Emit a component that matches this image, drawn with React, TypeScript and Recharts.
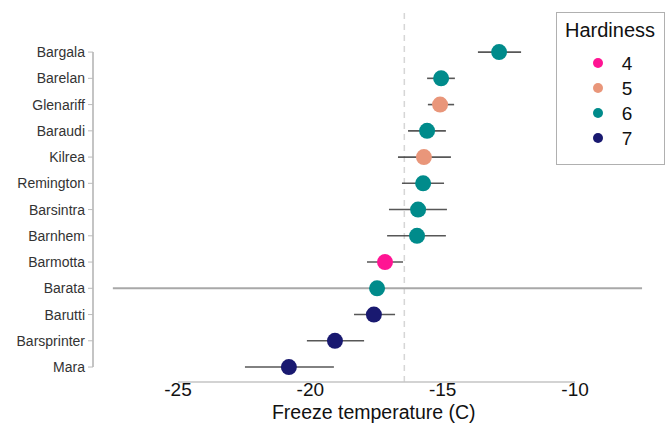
import {
  ErrorBar,
  Legend,
  ReferenceLine,
  Scatter,
  ScatterChart,
  XAxis,
  YAxis,
} from "recharts";

const cultivars = [
  "Bargala",
  "Barelan",
  "Glenariff",
  "Baraudi",
  "Kilrea",
  "Remington",
  "Barsintra",
  "Barnhem",
  "Barmotta",
  "Barata",
  "Barutti",
  "Barsprinter",
  "Mara",
];
const freezeTemp = [-12.87, -15.06, -15.1, -15.59, -15.71, -15.74, -15.93, -15.97, -17.18, -17.48, -17.6, -19.07, -20.81];
const lowerCI = [-13.67, -15.59, -15.56, -16.31, -16.69, -16.54, -17.03, -17.1, -17.86, -27.46, -18.35, -20.13, -22.47];
const upperCI = [-12.04, -14.54, -14.57, -14.88, -14.69, -14.95, -14.84, -14.88, -16.5, -7.47, -16.8, -17.97, -19.11];
const hardiness = [6, 6, 5, 6, 5, 6, 6, 6, 4, 6, 7, 7, 7];
const hardinessLevels = [4, 5, 6, 7];
const hardinessColors: Record<number, string> = {
  4: "#ff1493",
  5: "#e9967a",
  6: "#008b8b",
  7: "#191970",
};
const meanFreeze = -16.45;
const xTicks = [-25, -20, -15, -10];

const font = "'Liberation Sans', Arial, Helvetica, sans-serif";

const rows = cultivars.map((name, i) => ({
  name,
  y: i,
  temp: freezeTemp[i],
  err: [freezeTemp[i] - lowerCI[i], upperCI[i] - freezeTemp[i]],
  hardiness: hardiness[i],
}));

const yTicks = cultivars.map((_, i) => i);

function Dot(props: any) {
  return <circle cx={props.cx} cy={props.cy} r={8} fill={props.fill} />;
}

function NoShape() {
  return <g />;
}

function HardinessLegend() {
  return (
    <svg width={109} height={153} style={{ display: "block" }}>
      <rect x={0.5} y={0.5} width={108} height={152} fill="#fff" stroke="#b0b0b0" />
      <text x={54} y={25} textAnchor="middle" fontSize={20} fill="#111" fontFamily={font}>
        Hardiness
      </text>
      {hardinessLevels.map((level, i) => (
        <g key={level}>
          <circle cx={42} cy={51 + i * 25} r={5} fill={hardinessColors[level]} />
          <text x={71} y={58 + i * 25} textAnchor="middle" fontSize={19} fill="#111" fontFamily={font}>
            {level}
          </text>
        </g>
      ))}
    </svg>
  );
}

export default function App() {
  const lightRows = rows.filter((r) => r.name === "Barata");
  const darkRows = rows.filter((r) => r.name !== "Barata");

  return (
    <div style={{ position: "absolute", left: 0, top: 0, width: 668, height: 425, background: "#fff" }}>
      <ScatterChart width={668} height={425} margin={{ top: 8, right: 13.5, bottom: 0, left: 0 }}>
        <XAxis
          type="number"
          dataKey="temp"
          domain={[-28.21, -7]}
          allowDataOverflow
          ticks={xTicks}
          axisLine={false}
          tickLine={false}
          tickSize={0}
          tickMargin={1}
          height={43}
          tick={{ fontSize: 19, fill: "#111", fontFamily: font }}
          label={{
            value: "Freeze temperature (C)",
            position: "insideBottom",
            offset: 6,
            fontSize: 19.5,
            fill: "#111",
            fontFamily: font,
          }}
        />
        <YAxis
          type="number"
          dataKey="y"
          reversed
          domain={[-1.68, 12.57]}
          allowDataOverflow
          ticks={yTicks}
          interval={0}
          tickFormatter={(v: number) => cultivars[v]}
          axisLine={false}
          tickLine={{ stroke: "#bbb" }}
          tickSize={5}
          tickMargin={3}
          width={93}
          tick={{ fontSize: 14, fill: "#333", fontFamily: font }}
        />
        <ReferenceLine x={meanFreeze} stroke="#d6d6d6" strokeWidth={1.5} strokeDasharray="6 5" />
        <ReferenceLine
          segment={[
            { x: -28.21, y: 0 },
            { x: -28.21, y: 12 },
          ]}
          stroke="#c4c4c4"
          strokeWidth={2}
          ifOverflow="visible"
        />
        <ReferenceLine
          segment={[
            { x: -25, y: 12.57 },
            { x: -10, y: 12.57 },
          ]}
          stroke="#c4c4c4"
          strokeWidth={1.5}
          ifOverflow="visible"
        />
        {hardinessLevels.map((level) => (
          <Scatter
            key={level}
            name={String(level)}
            data={rows.filter((r) => r.hardiness === level)}
            fill={hardinessColors[level]}
            shape={<Dot />}
            isAnimationActive={false}
          />
        ))}
        <Scatter data={darkRows} shape={<NoShape />} isAnimationActive={false} legendType="none">
          <ErrorBar dataKey="err" direction="x" width={0} stroke="#3a3a3a" strokeWidth={1.6} strokeOpacity={0.85} isAnimationActive={false} />
        </Scatter>
        <Scatter data={lightRows} shape={<NoShape />} isAnimationActive={false} legendType="none">
          <ErrorBar dataKey="err" direction="x" width={0} stroke="#a8a8a8" strokeWidth={2} isAnimationActive={false} />
        </Scatter>
        <Legend
          layout="vertical"
          verticalAlign="middle"
          align="center"
          content={<HardinessLegend />}
          wrapperStyle={{ position: "absolute", top: 12, left: 556, width: 109, height: 153 }}
        />
      </ScatterChart>
    </div>
  );
}
